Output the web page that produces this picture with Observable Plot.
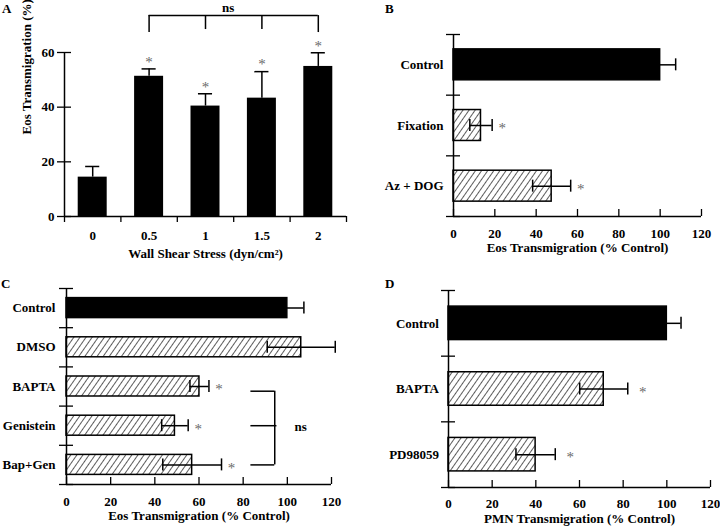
<!DOCTYPE html>
<html><head><meta charset="utf-8">
<script src="https://cdn.jsdelivr.net/npm/d3@7"></script>
<script src="https://cdn.jsdelivr.net/npm/@observablehq/plot@0.6"></script>
<style>
body{margin:0;background:#fff}
#fig{position:relative;width:720px;height:528px;overflow:hidden;background:#fff;font-family:"Liberation Serif","Times New Roman",serif}
.panel{position:absolute}
.letter{position:absolute;font-weight:bold;font-size:13px;line-height:1}
</style></head><body><div id="fig"></div>
<script>
// ---------- Panel A: Wall shear stress ----------
const aCats = ["0", "0.5", "1", "1.5", "2"];
const aValues = [14.4, 51.3, 40.4, 43.3, 54.9];
const aErrors = [3.9, 2.7, 4.5, 9.7, 5.0];
const aSig = [false, true, true, true, true];
const aYTicks = [0, 20, 40, 60];
const aBracketCats = [1, 2, 3, 4];

// ---------- Panel B ----------
const bCats = ["Control", "Fixation", "Az + DOG"];
const bValues = [100, 13.3, 47.5];
const bErrors = [7.5, 5.4, 9.2];
const bSig = [false, true, true];
const bHatched = [false, true, true];

// ---------- Panel C ----------
const cCats = ["Control", "DMSO", "BAPTA", "Genistein", "Bap+Gen"];
const cValues = [100, 106.3, 60.2, 49.1, 56.9];
const cErrors = [7.5, 15.4, 4.3, 6.0, 13.3];
const cSig = [false, false, true, true, true];
const cHatched = [false, true, true, true, true];
const cBracketCats = [2, 3, 4];

// ---------- Panel D ----------
const dCats = ["Control", "BAPTA", "PD98059"];
const dValues = [100, 71.1, 39.9];
const dErrors = [6.5, 11.0, 9.0];
const dSig = [false, true, true];
const dHatched = [false, true, true];

const pctTicks = [0, 20, 40, 60, 80, 100, 120];

const FONT = "'Liberation Serif','Times New Roman',serif";
const fig = document.getElementById("fig");

function addHatch(svg, id) {
  const defs = d3.select(svg).insert("defs", ":first-child");
  const p = defs.append("pattern").attr("id", id)
    .attr("patternUnits", "userSpaceOnUse")
    .attr("width", 5).attr("height", 5)
    .attr("patternTransform", "rotate(35)");
  p.append("rect").attr("width", 5).attr("height", 5).attr("fill", "white");
  p.append("line").attr("x1", 2.5).attr("y1", 0).attr("x2", 2.5).attr("y2", 5)
    .attr("stroke", "#333").attr("stroke-width", 0.8);
}

function place(svg, left, top) {
  svg.classList.add("panel");
  svg.style.left = left + "px";
  svg.style.top = top + "px";
  fig.appendChild(svg);
}

function letter(t, left, top) {
  const d = document.createElement("div");
  d.className = "letter";
  d.textContent = t;
  d.style.left = left + "px";
  d.style.top = top + "px";
  fig.appendChild(d);
}

const baseStyle = {background: "transparent", fontFamily: FONT, fontSize: "13px", fontWeight: "bold", color: "black", overflow: "visible"};
const starFill = "#6a6a6a";

// ---------- Panel A ----------
{
  const rows = aCats.map((c, i) => ({c, i, v: aValues[i], e: aErrors[i], sig: aSig[i]}));
  const bounds = d3.range(-0.5, aCats.length, 1);
  const half = 0.257, cap = 0.125;
  const yTop = 73.5, yEnd = 67.3, yMid = 68.4;
  const svg = Plot.plot({
    width: 360, height: 264,
    marginLeft: 64, marginRight: 14, marginTop: 52, marginBottom: 48,
    style: baseStyle,
    x: {type: "linear", domain: [-0.5, aCats.length - 0.5]},
    y: {domain: [0, 60]},
    marks: [
      Plot.rectY(rows, {x1: d => d.i - half, x2: d => d.i + half, y1: 0, y2: "v", fill: "black"}),
      Plot.ruleX(rows, {x: "i", y1: "v", y2: d => d.v + d.e, stroke: "black", strokeWidth: 1.5}),
      Plot.ruleY(rows, {y: d => d.v + d.e, x1: d => d.i - cap, x2: d => d.i + cap, stroke: "black", strokeWidth: 1.5}),
      Plot.text(rows.filter(d => d.sig), {x: "i", y: d => d.v + d.e, text: () => "*", dy: -7, fill: starFill, fontWeight: "normal", fontSize: 15}),
      Plot.ruleX([-0.5], {strokeWidth: 1.5}),
      Plot.ruleY([0], {strokeWidth: 1.5}),
      Plot.axisY(aYTicks, {tickSize: 14, dx: 7, tickFormat: () => "", label: null, strokeWidth: 1.3}),
      Plot.axisY(aYTicks, {tickSize: 0, tickPadding: 10, label: null}),
      Plot.axisX(bounds, {tickSize: 6, tickFormat: () => "", label: null, strokeWidth: 1.3}),
      Plot.axisX(rows.map(d => d.i), {tickSize: 0, tickPadding: 14, tickFormat: i => aCats[i], label: null}),
      Plot.text(["Wall Shear Stress (dyn/cm²)"], {frameAnchor: "bottom", dy: 41, fontSize: 13}),
      Plot.text(["Eos Transmigration (%)"], {frameAnchor: "left", dx: -38, rotate: -90, fontSize: 13}),
      // ns bracket
      Plot.ruleY([yTop], {x1: aBracketCats[0], x2: aBracketCats[aBracketCats.length - 1], strokeWidth: 1.5}),
      Plot.ruleX(aBracketCats, {x: d => d, y1: yTop, y2: d => (d === aBracketCats[0] || d === aBracketCats[aBracketCats.length - 1]) ? yEnd : yMid, strokeWidth: 1.5}),
      Plot.text(["ns"], {x: 2.4, y: 76.2, fontSize: 13})
    ]
  });
  place(svg, 0, 0);
  letter("A", 2, 2);
}

// ---------- Horizontal panels ----------
function hpanel({cats, values, errors, sig, hatched, id, left, top, margins, xTitle, titleDy, yPad, xPad, astDx, extra = []}) {
  const height = 264, width = 360;
  const n = cats.length;
  const rows = cats.map((c, i) => ({c, i, v: values[i], e: errors[i], sig: sig[i], h: hatched[i]}));
  const step = (height - margins.top - margins.bottom) / n;
  const half = 0.255;
  const cap = 6 / step;
  const bounds = d3.range(-0.5, n, 1);
  const caps = rows.flatMap(d => [{i: d.i, x: d.v - d.e}, {i: d.i, x: d.v + d.e}]);
  const svg = Plot.plot({
    width, height,
    marginLeft: margins.left, marginRight: margins.right, marginTop: margins.top, marginBottom: margins.bottom,
    style: baseStyle,
    x: {domain: [0, 120]},
    y: {type: "linear", domain: [n - 0.5, -0.5]},
    marks: [
      Plot.rectX(rows.filter(d => !d.h), {x1: 0, x2: "v", y1: d => d.i - half, y2: d => d.i + half, fill: "black", stroke: "black", strokeWidth: 1.5}),
      Plot.rectX(rows.filter(d => d.h), {x1: 0, x2: "v", y1: d => d.i - half, y2: d => d.i + half, fill: `url(#${id})`, stroke: "black", strokeWidth: 1.5}),
      Plot.ruleY(rows, {y: "i", x1: d => d.v - d.e, x2: d => d.v + d.e, strokeWidth: 1.5}),
      Plot.ruleX(caps, {x: "x", y1: d => d.i - cap, y2: d => d.i + cap, strokeWidth: 1.5}),
      Plot.text(rows.filter(d => d.sig), {x: d => d.v + d.e, y: "i", text: () => "*", dx: astDx, dy: 3, fill: starFill, fontWeight: "normal", fontSize: 15}),
      Plot.ruleX([0], {strokeWidth: 1.5}),
      Plot.ruleY([n - 0.5], {strokeWidth: 1.5}),
      Plot.axisY(bounds, {tickSize: 14, dx: 7, tickFormat: () => "", label: null, strokeWidth: 1.3}),
      Plot.axisY(rows.map(d => d.i), {tickSize: 0, tickPadding: yPad, tickFormat: i => cats[i], label: null}),
      Plot.axisX(pctTicks, {tickSize: 7, dy: -7, tickFormat: () => "", label: null, strokeWidth: 1.3}),
      Plot.axisX(pctTicks, {tickSize: 0, tickPadding: xPad, label: null}),
      Plot.text([xTitle], {frameAnchor: "bottom", dy: titleDy, fontSize: 13}),
      ...extra
    ]
  });
  addHatch(svg, id);
  place(svg, left, top);
}

hpanel({
  cats: bCats, values: bValues, errors: bErrors, sig: bSig, hatched: bHatched, id: "hatchB",
  left: 360, top: 0, margins: {left: 93, right: 19, top: 34, bottom: 48},
  xTitle: "Eos Transmigration (% Control)", titleDy: 35.6, yPad: 10, xPad: 12, astDx: 10
});
letter("B", 385, 2);

hpanel({
  cats: cCats, values: cValues, errors: cErrors, sig: cSig, hatched: cHatched, id: "hatchC",
  left: 0, top: 264, margins: {left: 66, right: 29, top: 24, bottom: 44},
  xTitle: "Eos Transmigration (% Control)", titleDy: 35.3, yPad: 11, xPad: 12.5, astDx: 10,
  extra: [
    Plot.ruleX([94.3], {y1: cBracketCats[0] + 0.12, y2: cBracketCats[cBracketCats.length - 1], strokeWidth: 1.5}),
    Plot.ruleY(cBracketCats, {y: d => d === cBracketCats[0] ? d + 0.12 : d, x1: 83.5, x2: d => d === 3 ? 95.3 : 94.3, strokeWidth: 1.5}),
    Plot.text(["ns"], {x: 106, y: 3, dy: 1, fontSize: 13})
  ]
});
letter("C", 1, 277);

hpanel({
  cats: dCats, values: dValues, errors: dErrors, sig: dSig, hatched: dHatched, id: "hatchD",
  left: 360, top: 264, margins: {left: 88, right: 10, top: 26, bottom: 41},
  xTitle: "PMN Transmigration (% Control)", titleDy: 35.3, yPad: 9.5, xPad: 11.5, astDx: 15
});
letter("D", 385, 277);
</script></body></html>
